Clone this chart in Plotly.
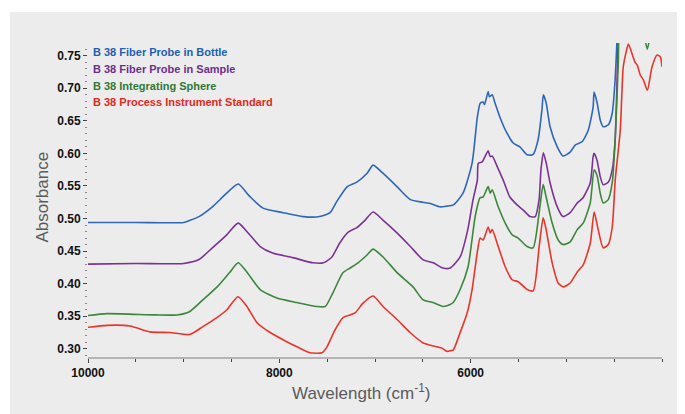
import plotly.graph_objects as go

# ---------------- data ----------------
bottle_wn = [10000, 9500, 9000, 8940, 8840, 8700, 8550, 8430, 8310, 8170, 7960, 7750, 7580, 7470,
             7400, 7290, 7190, 7080, 7020, 6920, 6770, 6630, 6500, 6420, 6320, 6250, 6180, 6080,
             5985, 5930, 5900, 5870, 5855, 5817, 5805, 5775, 5745, 5690, 5620, 5555, 5485, 5410,
             5350, 5295, 5255, 5240, 5210, 5170, 5095, 5035, 4960, 4905, 4835, 4770, 4720, 4710,
             4680, 4645, 4615, 4560, 4520, 4490, 4465, 4440]
bottle_abs = [0.494, 0.494, 0.494, 0.497, 0.503, 0.518, 0.539, 0.553, 0.534, 0.516, 0.509, 0.503, 0.503, 0.509,
              0.526, 0.549, 0.556, 0.570, 0.582, 0.570, 0.549, 0.529, 0.525, 0.523, 0.518, 0.519, 0.521, 0.539,
              0.585, 0.656, 0.677, 0.679, 0.675, 0.695, 0.687, 0.690, 0.677, 0.654, 0.631, 0.616, 0.610, 0.598,
              0.598, 0.621, 0.667, 0.690, 0.677, 0.641, 0.610, 0.596, 0.602, 0.613, 0.618, 0.636, 0.671, 0.694,
              0.679, 0.651, 0.641, 0.644, 0.662, 0.713, 0.790, 0.850]

sample_wn = [10000, 9500, 9000, 8840, 8700, 8550, 8430, 8310, 8200, 8070, 7860, 7650, 7540, 7450,
             7370, 7280, 7190, 7100, 7020, 6920, 6770, 6630, 6500, 6390, 6290, 6215, 6110, 6030,
             5975, 5930, 5920, 5880, 5817, 5796, 5775, 5720, 5660, 5590, 5515, 5450, 5380, 5325,
             5285, 5265, 5240, 5210, 5170, 5095, 5035, 4960, 4885, 4825, 4750, 4720, 4710, 4680,
             4645, 4615, 4560, 4520, 4490, 4465, 4445]
sample_abs = [0.430, 0.431, 0.431, 0.437, 0.455, 0.475, 0.493, 0.475, 0.457, 0.447, 0.440, 0.432, 0.432, 0.441,
              0.462, 0.479, 0.486, 0.498, 0.510, 0.498, 0.478, 0.457, 0.437, 0.432, 0.424, 0.424, 0.441, 0.483,
              0.529, 0.559, 0.585, 0.587, 0.604, 0.595, 0.596, 0.579, 0.559, 0.533, 0.521, 0.513, 0.503, 0.503,
              0.529, 0.575, 0.601, 0.585, 0.555, 0.518, 0.503, 0.509, 0.524, 0.532, 0.555, 0.595, 0.600, 0.590,
              0.564, 0.552, 0.556, 0.575, 0.621, 0.739, 0.850]

sphere_wn = [10000, 9800, 9300, 9070, 8940, 8800, 8650, 8520, 8430, 8340, 8200, 8025, 7816, 7607,
             7520, 7440, 7334, 7260, 7177, 7083, 7020, 6916, 6769, 6602, 6497, 6393, 6288, 6215,
             6183, 6110, 6027, 5953, 5901, 5870, 5817, 5796, 5775, 5712, 5639, 5566, 5503, 5409,
             5347, 5284, 5242, 5211, 5148, 5085, 5033, 4960, 4886, 4824, 4750, 4709, 4677, 4646,
             4615, 4562, 4520, 4489, 4457, 4440, 4300, 4196, 4154, 4112, 4000]
sphere_abs = [0.351, 0.354, 0.352, 0.352, 0.357, 0.375, 0.395, 0.417, 0.432, 0.418, 0.391, 0.378, 0.371, 0.365,
              0.365, 0.386, 0.417, 0.424, 0.432, 0.444, 0.453, 0.441, 0.417, 0.395, 0.375, 0.371, 0.365, 0.368,
              0.371, 0.391, 0.426, 0.503, 0.532, 0.533, 0.549, 0.539, 0.544, 0.518, 0.493, 0.475, 0.470, 0.457,
              0.455, 0.509, 0.552, 0.533, 0.493, 0.467, 0.460, 0.464, 0.483, 0.493, 0.524, 0.575, 0.565, 0.539,
              0.524, 0.529, 0.555, 0.621, 0.739, 0.800, 0.850, 0.790, 0.760, 0.790, 0.850]

process_wn = [10000, 9800, 9560, 9354, 9145, 8936, 8800, 8653, 8548, 8433, 8339, 8233, 8097, 7962,
              7816, 7680, 7554, 7502, 7418, 7334, 7261, 7209, 7125, 7020, 6916, 6769, 6633, 6497,
              6351, 6300, 6246, 6215, 6183, 6110, 6037, 5985, 5932, 5901, 5870, 5817, 5796, 5775,
              5712, 5639, 5566, 5503, 5409, 5347, 5284, 5242, 5211, 5148, 5085, 5033, 4960, 4886,
              4824, 4750, 4709, 4667, 4615, 4562, 4520, 4489, 4436, 4405, 4370, 4351, 4302, 4278,
              4260, 4226, 4195, 4153, 4104, 4051, 4017, 4000]
process_abs = [0.333, 0.336, 0.335, 0.326, 0.325, 0.322, 0.334, 0.348, 0.360, 0.380, 0.365, 0.340, 0.325, 0.314,
               0.303, 0.294, 0.294, 0.303, 0.329, 0.348, 0.352, 0.355, 0.370, 0.381, 0.365, 0.345, 0.325, 0.309,
               0.303, 0.301, 0.296, 0.297, 0.298, 0.325, 0.355, 0.391, 0.447, 0.470, 0.467, 0.487, 0.478, 0.483,
               0.457, 0.426, 0.406, 0.403, 0.391, 0.389, 0.457, 0.501, 0.483, 0.432, 0.401, 0.395, 0.401, 0.418,
               0.429, 0.462, 0.510, 0.483, 0.455, 0.460, 0.487, 0.559, 0.636, 0.733, 0.759, 0.768, 0.748, 0.739,
               0.736, 0.720, 0.713, 0.697, 0.733, 0.751, 0.748, 0.733]

series_names = ["B 38 Fiber Probe in Bottle", "B 38 Fiber Probe in Sample",
                "B 38 Integrating Sphere", "B 38 Process Instrument Standard"]
line_colors = ["#2f67b8", "#7b3294", "#3b873b", "#e8352b"]
label_colors = ["#1f5fb0", "#6d2f8c", "#2f7a35", "#e02a22"]

x_tickvals = [10000, 8000, 6000]
x_ticktext = ["10000", "8000", "6000"]
y_tickvals = [0.30, 0.35, 0.40, 0.45, 0.50, 0.55, 0.60, 0.65, 0.70, 0.75]
y_ticktext = ["0.30", "0.35", "0.40", "0.45", "0.50", "0.55", "0.60", "0.65", "0.70", "0.75"]

# ---------------- figure ----------------
fig = go.Figure()
all_x = [bottle_wn, sample_wn, sphere_wn, process_wn]
all_y = [bottle_abs, sample_abs, sphere_abs, process_abs]
for xs, ys, name, col in zip(all_x, all_y, series_names, line_colors):
    fig.add_trace(go.Scatter(x=xs, y=ys, mode="lines", name=name,
                             line=dict(color=col, width=1.6, shape="spline", smoothing=0.6)))

BG = "#ececec"
fig.update_layout(
    width=685, height=414,
    margin=dict(l=80, r=31, t=35, b=65),
    paper_bgcolor="white",
    plot_bgcolor=BG,
    showlegend=False,
    font=dict(family="Liberation Sans, Arial, sans-serif", color="#111"),
    shapes=[dict(type="rect", xref="paper", yref="paper",
                 x0=-0.136, x1=1.06, y0=-0.22, y1=1.099,
                 fillcolor=BG, line=dict(width=0), layer="below")],
)

fig.update_xaxes(
    range=[10000, 4000],
    tickmode="array", tickvals=x_tickvals, ticktext=x_ticktext,
    ticks="outside", ticklen=4, tickwidth=1.2, tickcolor="#444",
    minor=dict(ticks="outside", ticklen=3, tickwidth=1.2, tickcolor="#444", dtick=500, showgrid=False),
    showline=True, linecolor="#b4b4b4", linewidth=2,
    showgrid=False, zeroline=False,
    tickfont=dict(family="Liberation Sans, Arial, sans-serif", size=12, color="#111", weight="bold"),
)
fig.update_yaxes(
    range=[0.2874, 0.7695],
    tickmode="array", tickvals=y_tickvals, ticktext=y_ticktext,
    ticks="outside", ticklen=4, tickwidth=1.2, tickcolor="#444",
    minor=dict(ticks="outside", ticklen=2, tickwidth=1, tickcolor="#888", dtick=0.01, showgrid=False),
    showline=False, showgrid=False, zeroline=False,
    tickfont=dict(family="Liberation Sans, Arial, sans-serif", size=12, color="#111", weight="bold"),
)

# legend as coloured text inside the plot
legend_y = [0.971, 0.917, 0.863, 0.812]
for name, col, yy in zip(series_names, label_colors, legend_y):
    fig.add_annotation(text=name, xref="paper", yref="paper", x=0.005, y=yy,
                       xanchor="left", yanchor="middle", showarrow=False,
                       font=dict(family="Liberation Sans, Arial, sans-serif", size=11,
                                 color=col, weight="bold"))

# axis titles
fig.add_annotation(text="Absorbance", xref="paper", yref="paper", x=-0.08, y=0.508,
                   textangle=-90, showarrow=False, xanchor="center", yanchor="middle",
                   font=dict(family="Liberation Sans Narrow, Arial Narrow, Liberation Sans, sans-serif",
                             size=17, color="#5a5a5a"))
fig.add_annotation(text="Wavelength (cm<sup>-1</sup>)", xref="paper", yref="paper", x=0.4756, y=-0.111,
                   showarrow=False, xanchor="center", yanchor="middle",
                   font=dict(family="Liberation Sans Narrow, Arial Narrow, Liberation Sans, sans-serif",
                             size=17, color="#5a5a5a"))

fig.write_html("out.html")
